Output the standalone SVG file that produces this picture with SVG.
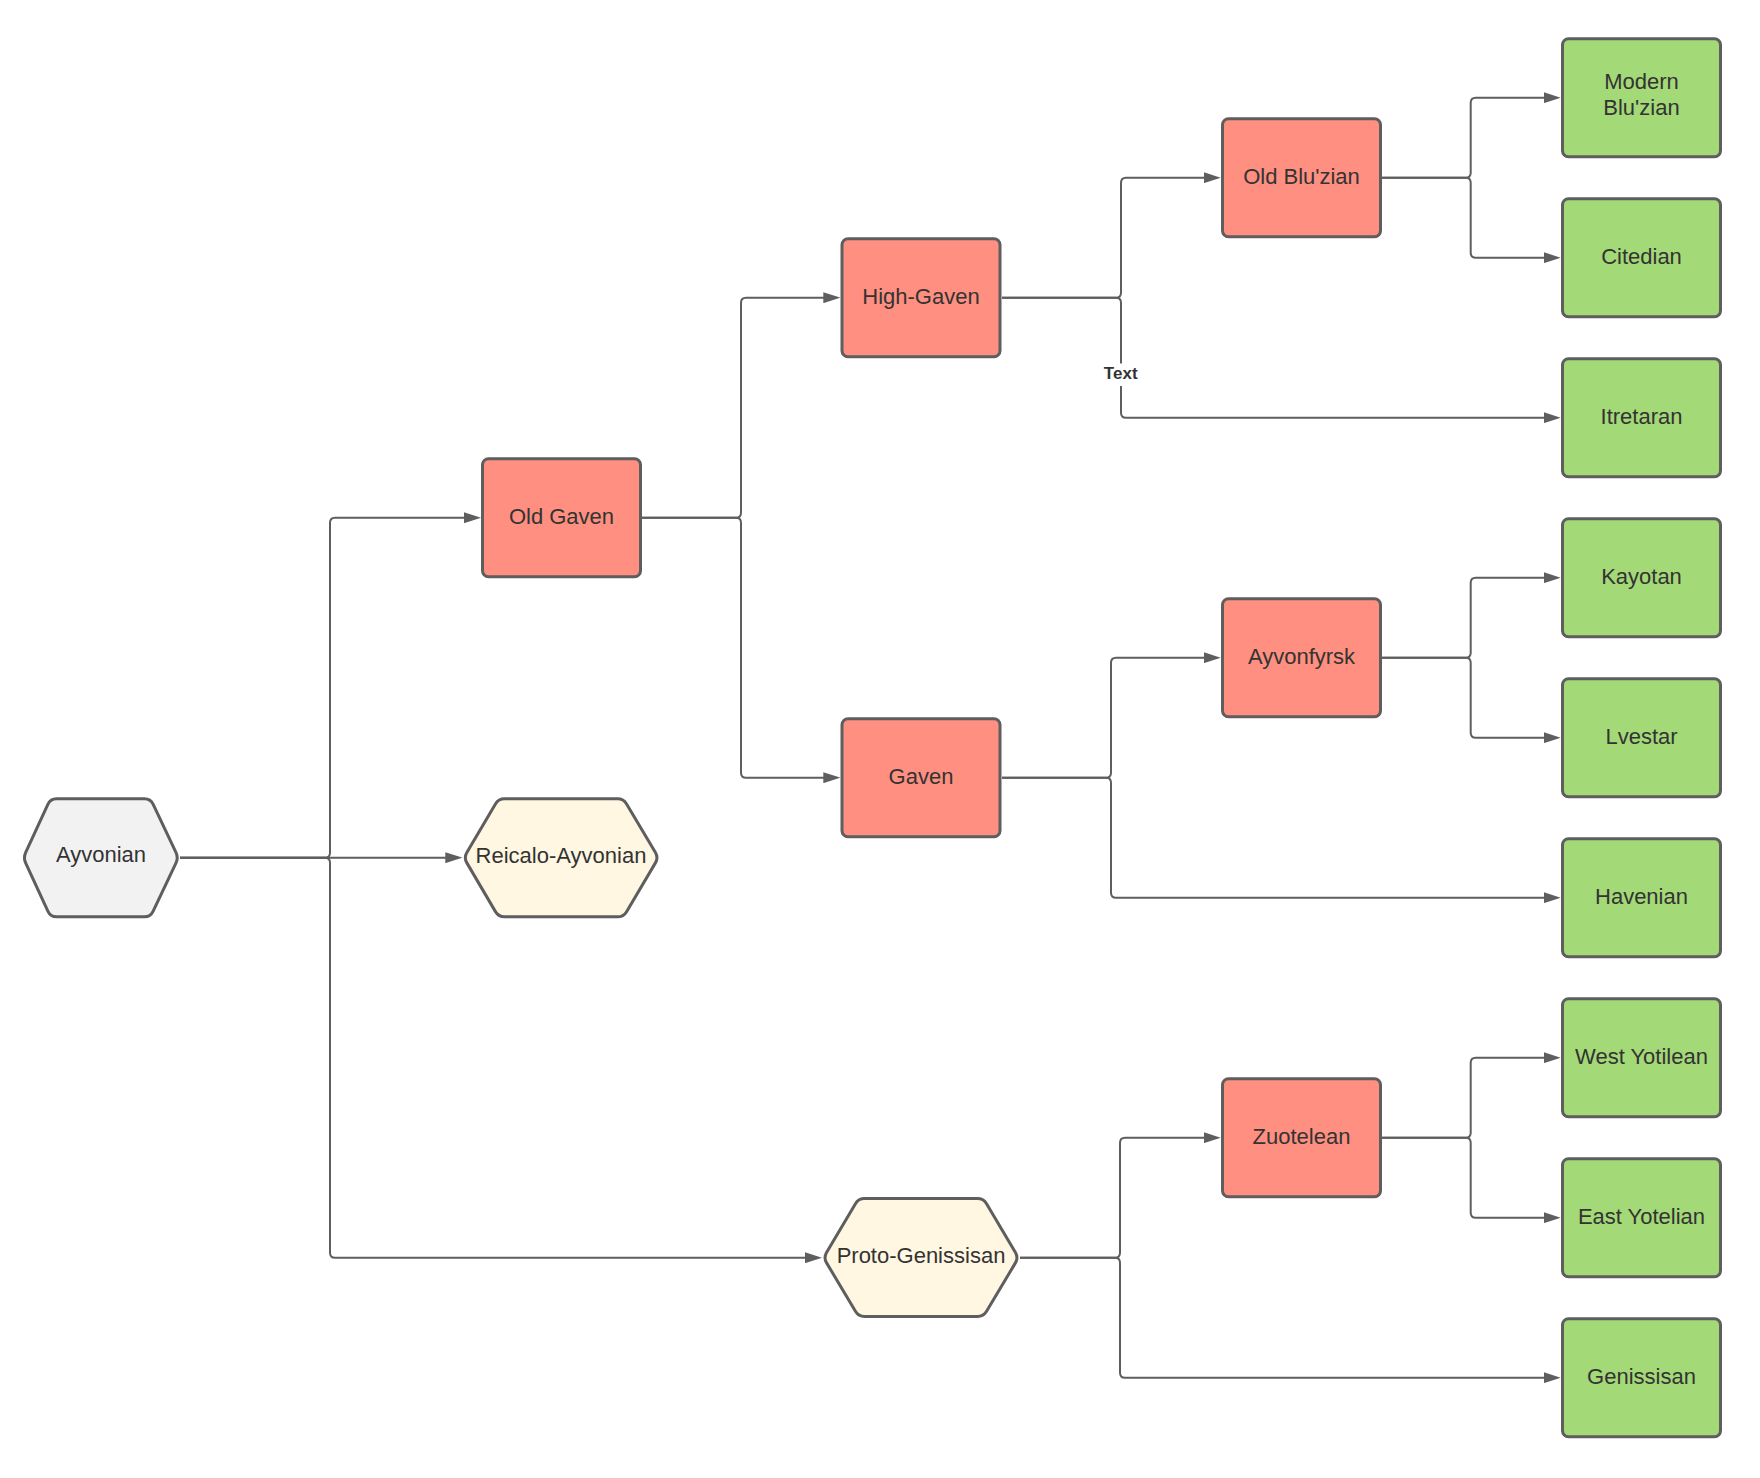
<svg xmlns="http://www.w3.org/2000/svg" width="1760" height="1478" viewBox="0 0 1760 1478">
<defs>
<marker id="arr" markerUnits="userSpaceOnUse" markerWidth="17" markerHeight="11" refX="7" refY="5.5" orient="auto">
<path d="M0,0 L17,5.5 L0,11 z" fill="#5e5e5e"/>
</marker>
</defs>
<style>
.box{stroke:#5e5e5e;stroke-width:3;stroke-linejoin:round}
.red{fill:#ff8f80}
.green{fill:#a3d977}
.grey{fill:#f2f2f2}
.yellow{fill:#fff7e1}
.lbl{font-family:"Liberation Sans",Arial,sans-serif;font-size:22px;fill:#333333;text-anchor:middle}
.edge{fill:none;stroke:#5e5e5e;stroke-width:2;marker-end:url(#arr)}
.etext{font-family:"Liberation Sans",Arial,sans-serif;font-size:17px;font-weight:bold;fill:#333333;text-anchor:middle}
</style>
<rect width="1760" height="1478" fill="#ffffff"/>

<g id="connectors">
<path class="edge" d="M180,857.7 H325 Q330,857.7 330,852.7 V522.7 Q330,517.7 335,517.7 H471"/>
<path class="edge" d="M180,857.7 H452.3"/>
<path class="edge" d="M180,857.7 H325 Q330,857.7 330,862.7 V1252.7 Q330,1257.7 335,1257.7 H812"/>
<path class="edge" d="M642,517.7 H736 Q741,517.7 741,512.7 V302.7 Q741,297.7 746,297.7 H830.3"/>
<path class="edge" d="M642,517.7 H736 Q741,517.7 741,522.7 V772.7 Q741,777.7 746,777.7 H830.3"/>
<path class="edge" d="M1002,297.7 H1116 Q1121,297.7 1121,292.7 V182.7 Q1121,177.7 1126,177.7 H1210.7"/>
<path class="edge" d="M1002,297.7 H1116 Q1121,297.7 1121,302.7 V412.7 Q1121,417.7 1126,417.7 H1550.7"/>
<path class="edge" d="M1002,777.7 H1106 Q1111,777.7 1111,772.7 V662.7 Q1111,657.7 1116,657.7 H1210.7"/>
<path class="edge" d="M1002,777.7 H1106 Q1111,777.7 1111,782.7 V892.7 Q1111,897.7 1116,897.7 H1550.7"/>
<path class="edge" d="M1382,177.7 H1465.7 Q1470.7,177.7 1470.7,172.7 V102.7 Q1470.7,97.7 1475.7,97.7 H1550.7"/>
<path class="edge" d="M1382,177.7 H1465.7 Q1470.7,177.7 1470.7,182.7 V252.7 Q1470.7,257.7 1475.7,257.7 H1550.7"/>
<path class="edge" d="M1382,657.7 H1465.7 Q1470.7,657.7 1470.7,652.7 V582.7 Q1470.7,577.7 1475.7,577.7 H1550.7"/>
<path class="edge" d="M1382,657.7 H1465.7 Q1470.7,657.7 1470.7,662.7 V732.7 Q1470.7,737.7 1475.7,737.7 H1550.7"/>
<path class="edge" d="M1020,1257.7 H1115 Q1120,1257.7 1120,1252.7 V1142.7 Q1120,1137.7 1125,1137.7 H1210.7"/>
<path class="edge" d="M1020,1257.7 H1115 Q1120,1257.7 1120,1262.7 V1372.7 Q1120,1377.7 1125,1377.7 H1550.7"/>
<path class="edge" d="M1382,1137.7 H1465.7 Q1470.7,1137.7 1470.7,1132.7 V1062.7 Q1470.7,1057.7 1475.7,1057.7 H1550.7"/>
<path class="edge" d="M1382,1137.7 H1465.7 Q1470.7,1137.7 1470.7,1142.7 V1212.7 Q1470.7,1217.7 1475.7,1217.7 H1550.7"/>
<rect x="1101" y="363.5" width="40" height="22.5" fill="#ffffff"/>
<text class="etext" x="1120.7" y="379.3">Text</text>
</g>

<g id="ayvonian">
<path class="box grey" d="M56.5,798.8 H144.5 Q150.5,798.8 153.07,804.22 L175.93,852.28 Q178.5,857.7 175.93,863.12 L153.07,911.38 Q150.5,916.8 144.5,916.8 H56.5 Q50.5,916.8 47.98,911.36 L25.72,863.14 Q23.2,857.7 25.72,852.26 L47.98,804.24 Q50.5,798.8 56.5,798.8 Z"/>
<text class="lbl" x="101" y="862">Ayvonian</text>
</g>
<g id="reicalo-ayvonian">
<path class="box yellow" d="M504.5,798.8 H617.5 Q623.5,798.8 626.57,803.96 L655.43,852.54 Q658.5,857.7 655.43,862.86 L626.57,911.64 Q623.5,916.8 617.5,916.8 H504.5 Q498.5,916.8 495.45,911.63 L466.85,862.87 Q463.8,857.7 466.85,852.53 L495.45,803.97 Q498.5,798.8 504.5,798.8 Z"/>
<text class="lbl" x="561" y="862.5">Reicalo-Ayvonian</text>
</g>
<g id="proto-genissisan">
<path class="box yellow" d="M864.5,1198.5 H977.5 Q983.5,1198.5 986.55,1203.67 L1015.45,1252.53 Q1018.5,1257.7 1015.43,1262.86 L986.57,1311.34 Q983.5,1316.5 977.5,1316.5 H864.5 Q858.5,1316.5 855.43,1311.34 L826.57,1262.86 Q823.5,1257.7 826.55,1252.53 L855.45,1203.67 Q858.5,1198.5 864.5,1198.5 Z"/>
<text class="lbl" x="921" y="1262.5">Proto-Genissisan</text>
</g>

<g id="old-gaven">
<rect class="box red" x="482.5" y="458.7" width="158" height="118" rx="6"/>
<text class="lbl" x="561.5" y="523.5">Old Gaven</text>
</g>
<g id="high-gaven">
<rect class="box red" x="842" y="238.7" width="158" height="118" rx="6"/>
<text class="lbl" x="921" y="303.5">High-Gaven</text>
</g>
<g id="gaven">
<rect class="box red" x="842" y="718.7" width="158" height="118" rx="6"/>
<text class="lbl" x="921" y="783.5">Gaven</text>
</g>
<g id="old-bluzian">
<rect class="box red" x="1222.5" y="118.7" width="158" height="118" rx="6"/>
<text class="lbl" x="1301.5" y="183.5">Old Blu'zian</text>
</g>
<g id="ayvonfyrsk">
<rect class="box red" x="1222.5" y="598.7" width="158" height="118" rx="6"/>
<text class="lbl" x="1301.5" y="663.5">Ayvonfyrsk</text>
</g>
<g id="zuotelean">
<rect class="box red" x="1222.5" y="1078.7" width="158" height="118" rx="6"/>
<text class="lbl" x="1301.5" y="1143.5">Zuotelean</text>
</g>

<g id="modern-bluzian">
<rect class="box green" x="1562.5" y="38.7" width="158" height="118" rx="6"/>
<text class="lbl" x="1641.5" y="89">Modern</text>
<text class="lbl" x="1641.5" y="115.4">Blu'zian</text>
</g>
<g id="citedian">
<rect class="box green" x="1562.5" y="198.7" width="158" height="118" rx="6"/>
<text class="lbl" x="1641.5" y="263.5">Citedian</text>
</g>
<g id="itretaran">
<rect class="box green" x="1562.5" y="358.7" width="158" height="118" rx="6"/>
<text class="lbl" x="1641.5" y="423.5">Itretaran</text>
</g>
<g id="kayotan">
<rect class="box green" x="1562.5" y="518.7" width="158" height="118" rx="6"/>
<text class="lbl" x="1641.5" y="583.5">Kayotan</text>
</g>
<g id="lvestar">
<rect class="box green" x="1562.5" y="678.7" width="158" height="118" rx="6"/>
<text class="lbl" x="1641.5" y="743.5">Lvestar</text>
</g>
<g id="havenian">
<rect class="box green" x="1562.5" y="838.7" width="158" height="118" rx="6"/>
<text class="lbl" x="1641.5" y="903.5">Havenian</text>
</g>
<g id="west-yotilean">
<rect class="box green" x="1562.5" y="998.7" width="158" height="118" rx="6"/>
<text class="lbl" x="1641.5" y="1063.5">West Yotilean</text>
</g>
<g id="east-yotelian">
<rect class="box green" x="1562.5" y="1158.7" width="158" height="118" rx="6"/>
<text class="lbl" x="1641.5" y="1223.5">East Yotelian</text>
</g>
<g id="genissisan">
<rect class="box green" x="1562.5" y="1318.7" width="158" height="118" rx="6"/>
<text class="lbl" x="1641.5" y="1383.5">Genissisan</text>
</g>
</svg>
